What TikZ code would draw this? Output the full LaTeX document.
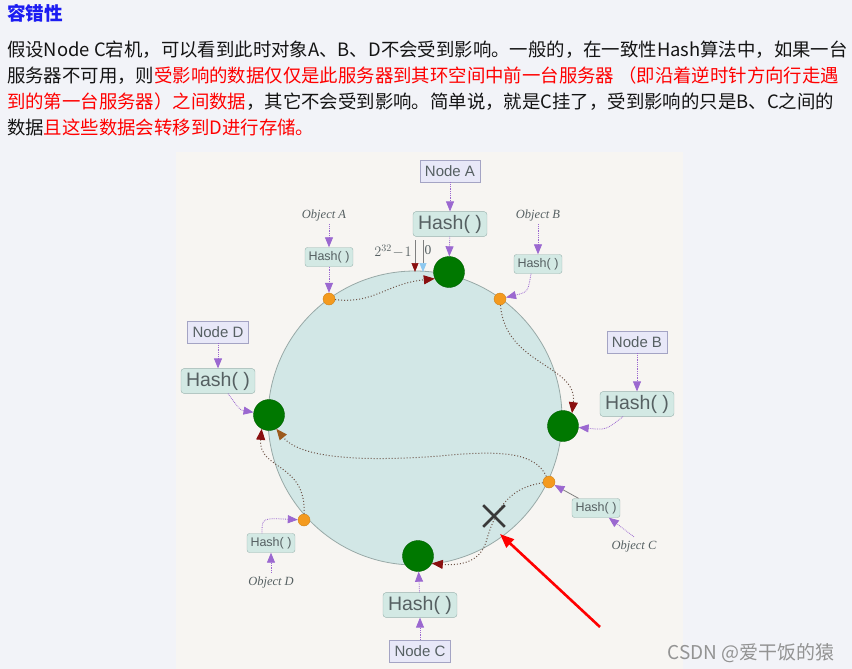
\documentclass[tikz,border=0pt]{standalone}
\usepackage{fontspec}
\usepackage{xcolor}
\usetikzlibrary{positioning, arrows.meta, shapes.misc}
\setmainfont{Liberation Sans}
\newfontfamily\cjk{Noto Sans CJK SC}
\newfontfamily\objfont{Liberation Serif}
\definecolor{pagebg}{HTML}{F2F3F8}
\definecolor{picbg}{HTML}{F7F5F2}
\definecolor{ringfill}{HTML}{D2E7E6}
\definecolor{ringline}{HTML}{98A9A7}
\definecolor{nodefill}{HTML}{E8E8F8}
\definecolor{nodeline}{HTML}{A4A4C4}
\definecolor{hashfill}{HTML}{D3E9E4}
\definecolor{hashline}{HTML}{98B2AD}
\definecolor{arrowpurple}{HTML}{9B68D0}
\definecolor{servergreen}{HTML}{007800}
\definecolor{dotorange}{HTML}{F49A1E}
\definecolor{pathred}{HTML}{8A0F0F}
\definecolor{pathdots}{HTML}{6E5448}
\definecolor{pathbrown}{HTML}{9C5A1C}
\definecolor{titleblue}{HTML}{1C1CF2}
\definecolor{alertred}{HTML}{FF0000}
\definecolor{textblack}{HTML}{141414}
\definecolor{labelgray}{HTML}{566062}
\definecolor{markblue}{HTML}{8CC8F0}

\begin{document}
\begin{tikzpicture}[x=1pt, y=-1pt,
  bodyline/.style={anchor=base west, inner sep=0pt, text=textblack, font=\cjk\fontsize{18.4}{18.4}\selectfont},
  nodebox/.style={draw=nodeline, fill=nodefill, text=labelgray, font=\fontsize{15}{15}\selectfont, inner xsep=5pt, minimum height=22pt},
  bighash/.style={draw=hashline, fill=hashfill, rounded corners=3pt, text=labelgray, font=\fontsize{19.5}{19.5}\selectfont, inner xsep=5pt, minimum height=24pt},
  smallhash/.style={draw=hashline, fill=hashfill, rounded corners=2.5pt, text=labelgray, font=\fontsize{12.5}{12.5}\selectfont, inner xsep=3.5pt, minimum height=19pt},
  objlabel/.style={text=labelgray, font=\objfont\itshape\fontsize{12.5}{12.5}\selectfont},
  servernode/.style={circle, fill=servergreen, draw=servergreen!80!black, minimum size=31pt, inner sep=0pt},
  objdot/.style={circle, fill=dotorange, draw=dotorange!85!black, minimum size=12pt, inner sep=0pt},
  feed/.style={draw=arrowpurple, densely dotted, line width=0.8pt, -{Triangle[length=10pt, width=8pt]}},
  walk/.style={draw=pathdots, dotted, line width=1pt, -{Triangle[length=11pt, width=9pt, color=pathred]}},
  alarm/.style={draw=alertred, line width=2.6pt, -{Triangle[length=14pt, width=11pt]}}]
\useasboundingbox (0,0) rectangle (852,669);
\fill[pagebg] (0,0) rectangle (852,669);
% text above the picture
\node[bodyline, text=titleblue, font=\cjk\bfseries\fontsize{18.6}{18.6}\selectfont] (title) at (7,21) {容错性};
\node[bodyline] (line1) at (7,57) {假设Node C宕机，可以看到此时对象A、B、D不会受到影响。一般的，在一致性Hash算法中，如果一台};
\node[bodyline] (line2) at (7,83) {服务器不可用，则\textcolor{alertred}{受影响的数据仅仅是此服务器到其环空间中前一台服务器\hspace{4pt}（即沿着逆时针方向行走遇}};
\node[bodyline] (line3) at (7,109) {\textcolor{alertred}{到的第一台服务器）之间数据}，其它不会受到影响。简单说，就是C挂了，受到影响的只是B、C之间的};
\node[bodyline] (line4) at (7,135) {数据\textcolor{alertred}{且这些数据会转移到D进行存储。}};
% picture
\fill[picbg] (176,152) rectangle (683,669);
\draw[draw=ringline, fill=ringfill, line width=0.8pt] (415,418) circle[radius=147];
% servers
\node[servernode] (srvA) at (449,272) {};
\node[servernode] (srvB) at (563,426) {};
\node[servernode] (srvC) at (418,556) {};
\node[servernode] (srvD) at (269,415) {};
% objects
\node[objdot] (objA) at (329,299) {};
\node[objdot] (objB) at (500,299) {};
\node[objdot] (objC) at (549,482) {};
\node[objdot] (objD) at (304,520) {};
% hash boxes
\node[nodebox] (nA) at (450,171) {Node A};
\node[bighash] (hA) at (450,224) {Hash( )};
\node[nodebox] (nB) at (637,342) {Node B};
\node[bighash] (hB) at (637,404) {Hash( )};
\node[nodebox] (nC) at (420,651) {Node C};
\node[bighash] (hC) at (420,605) {Hash( )};
\node[nodebox] (nD) at (218,332) {Node D};
\node[bighash] (hD) at (218,381) {Hash( )};
\node[objlabel] (oA) at (324,215) {Object A};
\node[smallhash] (shA) at (329,257) {Hash( )};
\node[objlabel] (oB) at (538,215) {Object B};
\node[smallhash] (shB) at (538,264) {Hash( )};
\node[objlabel] (oC) at (634,546) {Object C};
\node[smallhash] (shC) at (596,508) {Hash( )};
\node[objlabel] (oD) at (271,582) {Object D};
\node[smallhash] (shD) at (271,543) {Hash( )};
% start of the ring
\coordinate (maxtop) at (415,240);
\coordinate (maxtip) at (415,272);
\coordinate (zerotop) at (423,240);
\coordinate (zerotip) at (423,272);
\draw[gray, line width=0.6pt, -{Triangle[length=9pt, width=7pt, color=pathred]}] (maxtop) -- (maxtip);
\draw[gray, line width=0.6pt, -{Triangle[length=9pt, width=7pt, color=markblue]}] (zerotop) -- (zerotip);
\node[text=labelgray, font=\fontsize{14}{14}\selectfont] (maxlbl) at (393,251) {$2^{32}\!-\!1$};
\node[text=labelgray, font=\objfont\fontsize{13.5}{13.5}\selectfont] (zerolbl) at (428,250) {0};
% hash arrows
\draw[feed] (nA) -- (hA);
\draw[feed] (hA) -- (srvA);
\draw[feed] (nB) -- (hB);
\draw[feed] ([xshift=-14pt]hB.south) .. controls (606,430) .. (srvB);
\draw[feed] (nC) -- (hC);
\draw[feed] (hC) -- (srvC);
\draw[feed] (nD) -- (hD);
\draw[feed] ([xshift=10pt]hD.south) .. controls (240,410) .. (srvD);
\draw[feed] (shA.north |- oA.south) -- (shA);
\draw[feed] (shA) -- (objA);
\draw[feed] (oB) -- (shB);
\draw[feed] ([xshift=-7pt]shB.south) .. controls (528,292) .. (objB);
\draw[feed] (oC.north) -- (shC);
\draw[feed, solid, draw=gray, -{Triangle[length=10pt, width=8pt, color=arrowpurple]}] (shC) -- (objC);
\draw[feed] (oD) -- (shD);
\draw[feed] ([xshift=-9pt]shD.north) .. controls (262,518) .. (objD);
% walk to the next server
\draw[walk] (objA) .. controls (375,304) and (385,284) .. (srvA.205);
\draw[walk] (objB) .. controls (505,365) and (578,365) .. (srvB.55);
\draw[walk] (objD) .. controls (306,462) and (258,470) .. (srvD.242);
\draw[walk, -{Triangle[length=11pt, width=9pt, color=pathbrown]}] (objC) .. controls (535,452) and (500,450) .. (440,456) .. controls (360,462) and (300,458) .. (srvD.298);
\draw[walk] (objC) .. controls (505,488) and (494,515) .. (486,542) .. controls (480,562) and (460,566) .. (srvC.332);
% failed server
\node[cross out, draw=darkgray!90!black, line width=2.6pt, minimum size=19pt, inner sep=0pt] (fail) at (494,516) {};
\coordinate (pointer) at (600,627);
\coordinate (hit) at (500,534);
\draw[alarm] (pointer) -- (hit);
% watermark
\node[anchor=base west, text=gray!85, font=\cjk\fontsize{19}{19}\selectfont] (mark) at (664,659) {CSDN @爱干饭的猿};
\end{tikzpicture}
\end{document}
